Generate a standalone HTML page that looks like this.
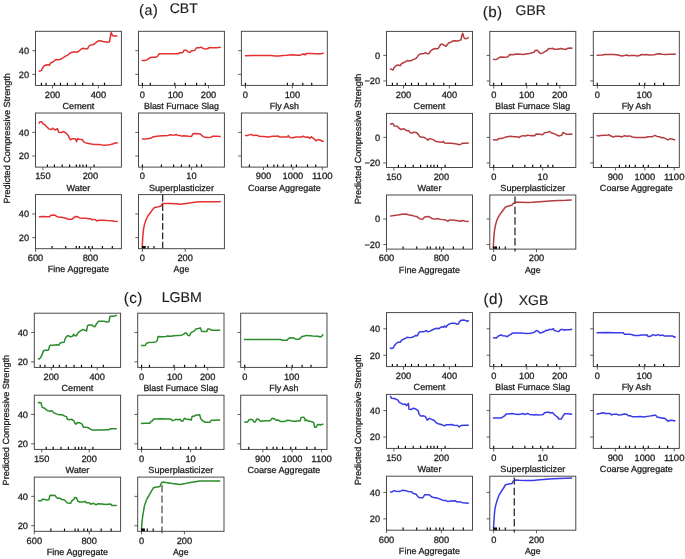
<!DOCTYPE html>
<html><head><meta charset="utf-8"><style>
html,body{margin:0;padding:0;background:#fff;width:685px;height:559px;overflow:hidden}
svg{position:absolute;left:0;top:0;-webkit-font-smoothing:antialiased;will-change:transform}
svg text{font-family:"Liberation Sans", sans-serif;fill:#1e1e1e;text-rendering:geometricPrecision;stroke:#1e1e1e;stroke-width:0.28px}
</style></head><body>
<svg width="685" height="559" viewBox="0 0 685 559">
<rect width="685" height="559" fill="#fff"/>
<g><text x="139" y="15.4" font-size="15.2" letter-spacing="0.45" style="stroke-width:0.15px">(<tspan font-size="14.2">a</tspan>)</text>
<text x="169.7" y="12.95" font-size="14.0" style="stroke-width:0.15px">CBT</text>
<g transform="translate(9.5,138.4) rotate(-90)"><text x="0" y="0" text-anchor="middle" font-size="8.9" textLength="130.46" lengthAdjust="spacingAndGlyphs">Predicted Compressive Strength</text></g>
<path d="M38.8,71.2 L40.5,70.8 L41.5,70.5 L42.5,68 L44,66 L46,65 L48,64.8 L49.5,65.2 L50.5,63 L52.5,62.2 L54.5,60.8 L56,59.5 L58,59.7 L60,59.5 L62,58.3 L64,57.2 L66,55.8 L68,54.8 L70.5,52.8 L72.5,52.2 L74.5,51.8 L76.5,52.2 L78.8,51.2 L79.5,50.5 L81,49.2 L83,48.3 L85,48.8 L87.5,48.8 L89,46 L90.5,45 L92.5,44.8 L94.5,44 L96.5,42 L98.5,40.8 L100.5,40.7 L102.5,41.5 L105,41.8 L107.5,42.3 L109.5,41.8 L110.5,36 L111.2,32.5 L112.5,35.5 L114,36 L117.5,36" fill="none" stroke="#e63030" stroke-width="1.5" stroke-linejoin="round"/>
<line x1="41.4" y1="85.4" x2="41.4" y2="82.7" stroke="#000" stroke-width="1.15"/>
<line x1="46.1" y1="85.4" x2="46.1" y2="82.7" stroke="#000" stroke-width="1.15"/>
<line x1="54.5" y1="85.4" x2="54.5" y2="82.7" stroke="#000" stroke-width="1.15"/>
<line x1="60.5" y1="85.4" x2="60.5" y2="82.7" stroke="#000" stroke-width="1.15"/>
<line x1="67.4" y1="85.4" x2="67.4" y2="82.7" stroke="#000" stroke-width="1.15"/>
<line x1="75.3" y1="85.4" x2="75.3" y2="82.7" stroke="#000" stroke-width="1.15"/>
<line x1="82.7" y1="85.4" x2="82.7" y2="82.7" stroke="#000" stroke-width="1.15"/>
<line x1="92.8" y1="85.4" x2="92.8" y2="82.7" stroke="#000" stroke-width="1.15"/>
<line x1="104.5" y1="85.4" x2="104.5" y2="82.7" stroke="#000" stroke-width="1.15"/>
<rect x="35.5" y="31.3" width="85.9" height="54.1" fill="none" stroke="#404040" stroke-width="0.95"/>
<line x1="52.5" y1="85.4" x2="52.5" y2="88.4" stroke="#333" stroke-width="0.8"/>
<text x="52.5" y="97.7" text-anchor="middle" font-size="9.2" textLength="15.46" lengthAdjust="spacingAndGlyphs">200</text>
<line x1="98.4" y1="85.4" x2="98.4" y2="88.4" stroke="#333" stroke-width="0.8"/>
<text x="98.4" y="97.7" text-anchor="middle" font-size="9.2" textLength="15.46" lengthAdjust="spacingAndGlyphs">400</text>
<line x1="32.3" y1="74.35" x2="35.5" y2="74.35" stroke="#333" stroke-width="0.8"/>
<text x="29.2" y="77.65" text-anchor="end" font-size="9.2" textLength="10.31" lengthAdjust="spacingAndGlyphs">20</text>
<line x1="32.3" y1="50.7" x2="35.5" y2="50.7" stroke="#333" stroke-width="0.8"/>
<text x="29.2" y="54" text-anchor="end" font-size="9.2" textLength="10.31" lengthAdjust="spacingAndGlyphs">40</text>
<text x="78.45" y="108.8" text-anchor="middle" font-size="8.9" textLength="31.82" lengthAdjust="spacingAndGlyphs">Cement</text>
<path d="M141.55,60.53 L144.8,60.53 L147.39,59.62 L149.99,57.54 L152.59,57.28 L156.23,57.28 L157.79,55.98 L159.09,53.78 L162.98,53.78 L169.48,53.78 L175.98,53.78 L177.93,53.78 L179.61,52.74 L182.73,52.74 L184.03,50.14 L186.37,50.14 L187.93,51.83 L189.62,52.61 L191.57,50.79 L194.81,50.4 L196.5,47.8 L199.36,47.8 L201.05,47.15 L202.61,48.19 L205.86,49.1 L207.81,48.58 L209.11,47.54 L212.35,47.8 L216.25,47.8 L220.8,47.28" fill="none" stroke="#e63030" stroke-width="1.5" stroke-linejoin="round"/>
<line x1="142.4" y1="85.4" x2="142.4" y2="82.7" stroke="#000" stroke-width="1.15"/>
<line x1="150.3" y1="85.4" x2="150.3" y2="82.7" stroke="#000" stroke-width="1.15"/>
<line x1="174.8" y1="85.4" x2="174.8" y2="82.7" stroke="#000" stroke-width="1.15"/>
<line x1="185.4" y1="85.4" x2="185.4" y2="82.7" stroke="#000" stroke-width="1.15"/>
<line x1="196.6" y1="85.4" x2="196.6" y2="82.7" stroke="#000" stroke-width="1.15"/>
<line x1="205.3" y1="85.4" x2="205.3" y2="82.7" stroke="#000" stroke-width="1.15"/>
<rect x="138.5" y="31.3" width="85.9" height="54.1" fill="none" stroke="#404040" stroke-width="0.95"/>
<line x1="142.4" y1="85.4" x2="142.4" y2="88.4" stroke="#333" stroke-width="0.8"/>
<text x="142.4" y="97.7" text-anchor="middle" font-size="9.2" textLength="5.15" lengthAdjust="spacingAndGlyphs">0</text>
<line x1="175.45" y1="85.4" x2="175.45" y2="88.4" stroke="#333" stroke-width="0.8"/>
<text x="175.45" y="97.7" text-anchor="middle" font-size="9.2" textLength="15.46" lengthAdjust="spacingAndGlyphs">100</text>
<line x1="208.5" y1="85.4" x2="208.5" y2="88.4" stroke="#333" stroke-width="0.8"/>
<text x="208.5" y="97.7" text-anchor="middle" font-size="9.2" textLength="15.46" lengthAdjust="spacingAndGlyphs">200</text>
<line x1="135.3" y1="74.35" x2="138.5" y2="74.35" stroke="#333" stroke-width="0.8"/>
<line x1="135.3" y1="50.7" x2="138.5" y2="50.7" stroke="#333" stroke-width="0.8"/>
<text x="181.45" y="108.8" text-anchor="middle" font-size="8.9" textLength="74.89" lengthAdjust="spacingAndGlyphs">Blast Furnace Slag</text>
<path d="M244.94,55.72 L252.99,55.59 L259.49,55.59 L271.18,55.59 L275.08,55.98 L278.98,55.98 L282.87,55.59 L286.77,55.33 L289.37,55.07 L293.27,54.68 L297.17,55.33 L300.41,55.2 L302.1,54.17 L304.31,54.04 L305.22,54.94 L306.26,53.39 L310.16,53.39 L315.35,53.65 L320.55,53.78 L322.5,53.39 L323.8,52.87" fill="none" stroke="#e63030" stroke-width="1.5" stroke-linejoin="round"/>
<line x1="245.4" y1="85.4" x2="245.4" y2="82.7" stroke="#000" stroke-width="1.15"/>
<line x1="287.4" y1="85.4" x2="287.4" y2="82.7" stroke="#000" stroke-width="1.15"/>
<line x1="292.9" y1="85.4" x2="292.9" y2="82.7" stroke="#000" stroke-width="1.15"/>
<line x1="302.8" y1="85.4" x2="302.8" y2="82.7" stroke="#000" stroke-width="1.15"/>
<line x1="311.7" y1="85.4" x2="311.7" y2="82.7" stroke="#000" stroke-width="1.15"/>
<rect x="241.4" y="31.3" width="85.9" height="54.1" fill="none" stroke="#404040" stroke-width="0.95"/>
<line x1="245.4" y1="85.4" x2="245.4" y2="88.4" stroke="#333" stroke-width="0.8"/>
<text x="245.4" y="97.7" text-anchor="middle" font-size="9.2" textLength="5.15" lengthAdjust="spacingAndGlyphs">0</text>
<line x1="292.4" y1="85.4" x2="292.4" y2="88.4" stroke="#333" stroke-width="0.8"/>
<text x="292.4" y="97.7" text-anchor="middle" font-size="9.2" textLength="15.46" lengthAdjust="spacingAndGlyphs">100</text>
<line x1="238.2" y1="74.35" x2="241.4" y2="74.35" stroke="#333" stroke-width="0.8"/>
<line x1="238.2" y1="50.7" x2="241.4" y2="50.7" stroke="#333" stroke-width="0.8"/>
<text x="284.35" y="108.8" text-anchor="middle" font-size="8.9" textLength="29.17" lengthAdjust="spacingAndGlyphs">Fly Ash</text>
<path d="M38.94,123.69 L39.85,121.74 L41.8,121.74 L43.09,123.95 L45.04,124.99 L46.99,126.94 L48.94,128.89 L50.89,129.54 L52.84,128.24 L54.79,129.93 L56.09,129.54 L57.39,128.63 L58.68,132.14 L59.98,132.53 L61.93,132.4 L63.23,131.49 L65.18,132.53 L67.13,134.09 L68.43,136.04 L70.38,139.93 L72.33,138.63 L74.28,138.63 L75.57,139.28 L76.61,141.62 L77.52,138.63 L79.47,139.28 L82.07,139.54 L84.02,142.14 L85.97,142.92 L88.57,143.44 L91.17,144.09 L95.06,144.48 L98.96,144.48 L102.86,145.13 L106.76,145.13 L110.65,144.48 L113.25,143.83 L115.2,142.79 L117.8,142.92" fill="none" stroke="#e63030" stroke-width="1.5" stroke-linejoin="round"/>
<line x1="47.4" y1="167.1" x2="47.4" y2="164.4" stroke="#000" stroke-width="1.15"/>
<line x1="54.4" y1="167.1" x2="54.4" y2="164.4" stroke="#000" stroke-width="1.15"/>
<line x1="62.2" y1="167.1" x2="62.2" y2="164.4" stroke="#000" stroke-width="1.15"/>
<line x1="69.6" y1="167.1" x2="69.6" y2="164.4" stroke="#000" stroke-width="1.15"/>
<line x1="76.3" y1="167.1" x2="76.3" y2="164.4" stroke="#000" stroke-width="1.15"/>
<line x1="79.8" y1="167.1" x2="79.8" y2="164.4" stroke="#000" stroke-width="1.15"/>
<line x1="83" y1="167.1" x2="83" y2="164.4" stroke="#000" stroke-width="1.15"/>
<line x1="86.4" y1="167.1" x2="86.4" y2="164.4" stroke="#000" stroke-width="1.15"/>
<line x1="94.1" y1="167.1" x2="94.1" y2="164.4" stroke="#000" stroke-width="1.15"/>
<rect x="35.5" y="113" width="85.9" height="54.1" fill="none" stroke="#404040" stroke-width="0.95"/>
<line x1="42.9" y1="167.1" x2="42.9" y2="170.1" stroke="#333" stroke-width="0.8"/>
<text x="42.9" y="179.4" text-anchor="middle" font-size="9.2" textLength="15.46" lengthAdjust="spacingAndGlyphs">150</text>
<line x1="90.4" y1="167.1" x2="90.4" y2="170.1" stroke="#333" stroke-width="0.8"/>
<text x="90.4" y="179.4" text-anchor="middle" font-size="9.2" textLength="15.46" lengthAdjust="spacingAndGlyphs">200</text>
<line x1="32.3" y1="156.05" x2="35.5" y2="156.05" stroke="#333" stroke-width="0.8"/>
<text x="29.2" y="159.35" text-anchor="end" font-size="9.2" textLength="10.31" lengthAdjust="spacingAndGlyphs">20</text>
<line x1="32.3" y1="132.4" x2="35.5" y2="132.4" stroke="#333" stroke-width="0.8"/>
<text x="29.2" y="135.7" text-anchor="end" font-size="9.2" textLength="10.31" lengthAdjust="spacingAndGlyphs">40</text>
<text x="78.45" y="190.5" text-anchor="middle" font-size="8.9" textLength="23.94" lengthAdjust="spacingAndGlyphs">Water</text>
<path d="M141.94,139.02 L145.44,139.02 L147.39,138.63 L150.64,138.37 L152.59,137.07 L155.19,136.43 L159.09,136.04 L162.98,135.65 L168.18,135.39 L170.13,134.74 L172.08,135 L174.68,135.13 L175.98,134.35 L177.28,135.13 L179.87,135.39 L181.82,136.17 L183.77,135.78 L186.37,136.04 L188.97,136.3 L191.57,136.43 L192.87,133.83 L194.81,133.44 L198.06,133.7 L200.4,134.09 L201.96,135.65 L203.91,136.94 L207.16,137.59 L211.05,137.33 L212.35,136.3 L216.25,136.3 L220.8,136.43" fill="none" stroke="#e63030" stroke-width="1.5" stroke-linejoin="round"/>
<line x1="142.4" y1="167.1" x2="142.4" y2="164.4" stroke="#000" stroke-width="1.15"/>
<line x1="161.4" y1="167.1" x2="161.4" y2="164.4" stroke="#000" stroke-width="1.15"/>
<line x1="173.6" y1="167.1" x2="173.6" y2="164.4" stroke="#000" stroke-width="1.15"/>
<line x1="181.4" y1="167.1" x2="181.4" y2="164.4" stroke="#000" stroke-width="1.15"/>
<line x1="189.4" y1="167.1" x2="189.4" y2="164.4" stroke="#000" stroke-width="1.15"/>
<line x1="196.7" y1="167.1" x2="196.7" y2="164.4" stroke="#000" stroke-width="1.15"/>
<line x1="201.5" y1="167.1" x2="201.5" y2="164.4" stroke="#000" stroke-width="1.15"/>
<rect x="138.5" y="113" width="85.9" height="54.1" fill="none" stroke="#404040" stroke-width="0.95"/>
<line x1="142.4" y1="167.1" x2="142.4" y2="170.1" stroke="#333" stroke-width="0.8"/>
<text x="142.4" y="179.4" text-anchor="middle" font-size="9.2" textLength="5.15" lengthAdjust="spacingAndGlyphs">0</text>
<line x1="191.4" y1="167.1" x2="191.4" y2="170.1" stroke="#333" stroke-width="0.8"/>
<text x="191.4" y="179.4" text-anchor="middle" font-size="9.2" textLength="10.31" lengthAdjust="spacingAndGlyphs">10</text>
<line x1="135.3" y1="156.05" x2="138.5" y2="156.05" stroke="#333" stroke-width="0.8"/>
<line x1="135.3" y1="132.4" x2="138.5" y2="132.4" stroke="#333" stroke-width="0.8"/>
<text x="181.45" y="190.5" text-anchor="middle" font-size="8.9" textLength="65" lengthAdjust="spacingAndGlyphs">Superplasticizer</text>
<path d="M244.94,135.39 L247.8,135.39 L251.04,134.35 L252.99,135.39 L256.24,135.13 L259.49,136.3 L263.39,136.43 L268.58,136.94 L272.48,136.17 L275.73,136.3 L278.33,136.04 L279.63,137.07 L282.87,137.07 L287.03,137.07 L288.33,135.65 L289.63,137.46 L293.27,137.72 L295.87,137.07 L301.06,137.07 L303.4,136.3 L305.61,137.33 L308.21,137.07 L309.9,138.37 L311.2,136.68 L312.76,137.98 L314.7,139.28 L316,140.84 L317.95,139.54 L319.9,139.93 L321.85,141.23 L323.8,141.36" fill="none" stroke="#e63030" stroke-width="1.5" stroke-linejoin="round"/>
<line x1="249.4" y1="167.1" x2="249.4" y2="164.4" stroke="#000" stroke-width="1.15"/>
<line x1="267.5" y1="167.1" x2="267.5" y2="164.4" stroke="#000" stroke-width="1.15"/>
<line x1="273.9" y1="167.1" x2="273.9" y2="164.4" stroke="#000" stroke-width="1.15"/>
<line x1="277.6" y1="167.1" x2="277.6" y2="164.4" stroke="#000" stroke-width="1.15"/>
<line x1="283.3" y1="167.1" x2="283.3" y2="164.4" stroke="#000" stroke-width="1.15"/>
<line x1="291.4" y1="167.1" x2="291.4" y2="164.4" stroke="#000" stroke-width="1.15"/>
<line x1="296.4" y1="167.1" x2="296.4" y2="164.4" stroke="#000" stroke-width="1.15"/>
<line x1="307.5" y1="167.1" x2="307.5" y2="164.4" stroke="#000" stroke-width="1.15"/>
<line x1="315.7" y1="167.1" x2="315.7" y2="164.4" stroke="#000" stroke-width="1.15"/>
<rect x="241.4" y="113" width="85.9" height="54.1" fill="none" stroke="#404040" stroke-width="0.95"/>
<line x1="263.5" y1="167.1" x2="263.5" y2="170.1" stroke="#333" stroke-width="0.8"/>
<text x="263.5" y="179.4" text-anchor="middle" font-size="9.2" textLength="15.46" lengthAdjust="spacingAndGlyphs">900</text>
<line x1="292.9" y1="167.1" x2="292.9" y2="170.1" stroke="#333" stroke-width="0.8"/>
<text x="292.9" y="179.4" text-anchor="middle" font-size="9.2" textLength="20.61" lengthAdjust="spacingAndGlyphs">1000</text>
<line x1="322.3" y1="167.1" x2="322.3" y2="170.1" stroke="#333" stroke-width="0.8"/>
<text x="322.3" y="179.4" text-anchor="middle" font-size="9.2" textLength="20.61" lengthAdjust="spacingAndGlyphs">1100</text>
<line x1="238.2" y1="156.05" x2="241.4" y2="156.05" stroke="#333" stroke-width="0.8"/>
<line x1="238.2" y1="132.4" x2="241.4" y2="132.4" stroke="#333" stroke-width="0.8"/>
<text x="284.35" y="190.5" text-anchor="middle" font-size="8.9" textLength="72.91" lengthAdjust="spacingAndGlyphs">Coarse Aggregate</text>
<path d="M38.94,216.65 L43.09,216.39 L46.99,216.78 L49.59,216.78 L50.89,215.35 L54.79,215.09 L56.74,216.39 L58.04,217.04 L61.28,217.17 L65.18,217.94 L68.43,219.24 L71.68,219.37 L73.63,217.94 L75.57,216.39 L77.52,216.65 L79.47,217.94 L83.37,218.2 L85.97,218.33 L88.57,218.72 L90.91,218.72 L91.81,219.76 L93.76,219.37 L95.06,219.63 L97.01,220.93 L98.96,220.28 L102.86,220.28 L106.76,220.54 L111.95,220.67 L114.55,221.19 L117.8,221.45" fill="none" stroke="#e63030" stroke-width="1.5" stroke-linejoin="round"/>
<line x1="52.1" y1="248.7" x2="52.1" y2="246" stroke="#000" stroke-width="1.15"/>
<line x1="65.7" y1="248.7" x2="65.7" y2="246" stroke="#000" stroke-width="1.15"/>
<line x1="76.3" y1="248.7" x2="76.3" y2="246" stroke="#000" stroke-width="1.15"/>
<line x1="79.35" y1="248.7" x2="79.35" y2="246" stroke="#000" stroke-width="1.15"/>
<line x1="85.1" y1="248.7" x2="85.1" y2="246" stroke="#000" stroke-width="1.15"/>
<line x1="88.75" y1="248.7" x2="88.75" y2="246" stroke="#000" stroke-width="1.15"/>
<line x1="92.3" y1="248.7" x2="92.3" y2="246" stroke="#000" stroke-width="1.15"/>
<line x1="102.4" y1="248.7" x2="102.4" y2="246" stroke="#000" stroke-width="1.15"/>
<line x1="112.3" y1="248.7" x2="112.3" y2="246" stroke="#000" stroke-width="1.15"/>
<rect x="35.5" y="194.6" width="85.9" height="54.1" fill="none" stroke="#404040" stroke-width="0.95"/>
<line x1="35.55" y1="248.7" x2="35.55" y2="251.7" stroke="#333" stroke-width="0.8"/>
<text x="35.55" y="261" text-anchor="middle" font-size="9.2" textLength="15.46" lengthAdjust="spacingAndGlyphs">600</text>
<line x1="90.4" y1="248.7" x2="90.4" y2="251.7" stroke="#333" stroke-width="0.8"/>
<text x="90.4" y="261" text-anchor="middle" font-size="9.2" textLength="15.46" lengthAdjust="spacingAndGlyphs">800</text>
<line x1="32.3" y1="237.65" x2="35.5" y2="237.65" stroke="#333" stroke-width="0.8"/>
<text x="29.2" y="240.95" text-anchor="end" font-size="9.2" textLength="10.31" lengthAdjust="spacingAndGlyphs">20</text>
<line x1="32.3" y1="214" x2="35.5" y2="214" stroke="#333" stroke-width="0.8"/>
<text x="29.2" y="217.3" text-anchor="end" font-size="9.2" textLength="10.31" lengthAdjust="spacingAndGlyphs">40</text>
<text x="78.45" y="272.1" text-anchor="middle" font-size="8.9" textLength="61.24" lengthAdjust="spacingAndGlyphs">Fine Aggregate</text>
<path d="M142.2,247.57 L142.46,242.37 L142.85,235.87 L143.5,229.38 L144.54,224.18 L146.09,219.63 L148.04,215.74 L150.64,212.23 L152.59,209.63 L154.54,207.55 L157.79,206.9 L161.04,205.99 L161.68,204.69 L162.98,203.39 L169.48,203.39 L175.98,203.78 L180.52,204.3 L186.37,203.39 L192.87,202.48 L199.36,201.83 L208.46,201.83 L214.95,201.83 L219.5,201.7 L220.8,201.31" fill="none" stroke="#e63030" stroke-width="1.5" stroke-linejoin="round"/>
<line x1="142.4" y1="248.7" x2="142.4" y2="246" stroke="#000" stroke-width="1.15"/>
<line x1="143.4" y1="248.7" x2="143.4" y2="246" stroke="#000" stroke-width="1.15"/>
<line x1="144.4" y1="248.7" x2="144.4" y2="246" stroke="#000" stroke-width="1.15"/>
<line x1="145.1" y1="248.7" x2="145.1" y2="246" stroke="#000" stroke-width="1.15"/>
<line x1="148.1" y1="248.7" x2="148.1" y2="246" stroke="#000" stroke-width="1.15"/>
<line x1="154" y1="248.7" x2="154" y2="246" stroke="#000" stroke-width="1.15"/>
<line x1="162.7" y1="194.8" x2="162.7" y2="250.5" stroke="#111" stroke-width="1.15" stroke-dasharray="6.8 2.6"/>
<rect x="138.5" y="194.6" width="85.9" height="54.1" fill="none" stroke="#404040" stroke-width="0.95"/>
<line x1="142.4" y1="248.7" x2="142.4" y2="251.7" stroke="#333" stroke-width="0.8"/>
<text x="142.4" y="261" text-anchor="middle" font-size="9.2" textLength="5.15" lengthAdjust="spacingAndGlyphs">0</text>
<line x1="185.2" y1="248.7" x2="185.2" y2="251.7" stroke="#333" stroke-width="0.8"/>
<text x="185.2" y="261" text-anchor="middle" font-size="9.2" textLength="15.46" lengthAdjust="spacingAndGlyphs">200</text>
<line x1="135.3" y1="237.65" x2="138.5" y2="237.65" stroke="#333" stroke-width="0.8"/>
<line x1="135.3" y1="214" x2="138.5" y2="214" stroke="#333" stroke-width="0.8"/>
<text x="181.45" y="272.1" text-anchor="middle" font-size="8.9" textLength="15.67" lengthAdjust="spacingAndGlyphs">Age</text></g>
<g><text x="482.7" y="16.6" font-size="15.2" letter-spacing="0.45" style="stroke-width:0.15px">(b)</text>
<text x="515.6" y="14.6" font-size="13.9" style="stroke-width:0.15px">GBR</text>
<g transform="translate(360.5,138.9) rotate(-90)"><text x="0" y="0" text-anchor="middle" font-size="8.9" textLength="130.46" lengthAdjust="spacingAndGlyphs">Predicted Compressive Strength</text></g>
<path d="M389.94,68.98 L391.5,69.24 L393.06,70.02 L394.35,67.03 L396.69,65.34 L398.64,65.08 L400.33,65.73 L401.63,63.52 L403.84,62.48 L405.79,61.57 L407.09,60.53 L409.04,60.92 L410.98,60.79 L412.93,59.62 L414.88,58.84 L416.18,58.32 L417.48,56.63 L419.04,54.43 L421.38,53.65 L423.33,53.65 L425.93,52.74 L427.22,53.65 L429.17,53.39 L430.47,51.05 L433.07,49.23 L435.02,48.58 L436.97,48.84 L438.27,48.45 L439.57,46.24 L440.87,44.29 L442.81,44.29 L444.76,45.59 L446.06,46.24 L447.36,44.55 L448.66,42.99 L451.26,41.95 L452.56,41.04 L455.16,40.65 L457.76,41.04 L459.7,40.39 L461,39.74 L461.91,35.2 L462.69,33.25 L463.6,36.5 L464.51,38.44 L466.2,38.7 L467.5,38.06 L468.8,37.41" fill="none" stroke="#b43c40" stroke-width="1.5" stroke-linejoin="round"/>
<line x1="392.4" y1="85.5" x2="392.4" y2="82.8" stroke="#000" stroke-width="1.15"/>
<line x1="397.1" y1="85.5" x2="397.1" y2="82.8" stroke="#000" stroke-width="1.15"/>
<line x1="405.5" y1="85.5" x2="405.5" y2="82.8" stroke="#000" stroke-width="1.15"/>
<line x1="411.5" y1="85.5" x2="411.5" y2="82.8" stroke="#000" stroke-width="1.15"/>
<line x1="418.4" y1="85.5" x2="418.4" y2="82.8" stroke="#000" stroke-width="1.15"/>
<line x1="426.3" y1="85.5" x2="426.3" y2="82.8" stroke="#000" stroke-width="1.15"/>
<line x1="433.7" y1="85.5" x2="433.7" y2="82.8" stroke="#000" stroke-width="1.15"/>
<line x1="443.8" y1="85.5" x2="443.8" y2="82.8" stroke="#000" stroke-width="1.15"/>
<line x1="455.5" y1="85.5" x2="455.5" y2="82.8" stroke="#000" stroke-width="1.15"/>
<rect x="386.5" y="31.4" width="86" height="54.1" fill="none" stroke="#404040" stroke-width="0.95"/>
<line x1="403.5" y1="85.5" x2="403.5" y2="88.5" stroke="#333" stroke-width="0.8"/>
<text x="403.5" y="97.8" text-anchor="middle" font-size="9.2" textLength="15.46" lengthAdjust="spacingAndGlyphs">200</text>
<line x1="449.4" y1="85.5" x2="449.4" y2="88.5" stroke="#333" stroke-width="0.8"/>
<text x="449.4" y="97.8" text-anchor="middle" font-size="9.2" textLength="15.46" lengthAdjust="spacingAndGlyphs">400</text>
<line x1="383.3" y1="80.95" x2="386.5" y2="80.95" stroke="#333" stroke-width="0.8"/>
<text x="380.2" y="84.25" text-anchor="end" font-size="9.2" textLength="15.79" lengthAdjust="spacingAndGlyphs">−20</text>
<line x1="383.3" y1="55.4" x2="386.5" y2="55.4" stroke="#333" stroke-width="0.8"/>
<text x="380.2" y="58.7" text-anchor="end" font-size="9.2" textLength="5.15" lengthAdjust="spacingAndGlyphs">0</text>
<text x="429.5" y="108.9" text-anchor="middle" font-size="8.9" textLength="31.82" lengthAdjust="spacingAndGlyphs">Cement</text>
<path d="M492.94,59.23 L495.8,59.62 L497.74,58.58 L499.69,57.28 L501.64,56.89 L504.24,57.28 L507.49,56.89 L508.79,55.98 L509.83,54.43 L512.68,54.68 L516.58,54.04 L520.48,54.17 L523.73,54.43 L526.98,53.78 L529.57,53.39 L532.17,52.74 L534.12,52.35 L535.03,50.53 L537.37,50.14 L538.93,52.09 L540.62,53.65 L542.57,53.13 L545.17,51.44 L547.11,50.53 L548.41,48.58 L550.36,48.84 L552.31,48.19 L554.26,49.23 L558.16,49.23 L560.76,48.45 L563.35,49.1 L565.95,49.49 L567.9,48.19 L570.5,47.93 L572.45,48.19" fill="none" stroke="#b43c40" stroke-width="1.5" stroke-linejoin="round"/>
<line x1="493.7" y1="85.5" x2="493.7" y2="82.8" stroke="#000" stroke-width="1.15"/>
<line x1="501.6" y1="85.5" x2="501.6" y2="82.8" stroke="#000" stroke-width="1.15"/>
<line x1="526.1" y1="85.5" x2="526.1" y2="82.8" stroke="#000" stroke-width="1.15"/>
<line x1="536.7" y1="85.5" x2="536.7" y2="82.8" stroke="#000" stroke-width="1.15"/>
<line x1="547.9" y1="85.5" x2="547.9" y2="82.8" stroke="#000" stroke-width="1.15"/>
<line x1="556.6" y1="85.5" x2="556.6" y2="82.8" stroke="#000" stroke-width="1.15"/>
<rect x="489.8" y="31.4" width="86" height="54.1" fill="none" stroke="#404040" stroke-width="0.95"/>
<line x1="493.7" y1="85.5" x2="493.7" y2="88.5" stroke="#333" stroke-width="0.8"/>
<text x="493.7" y="97.8" text-anchor="middle" font-size="9.2" textLength="5.15" lengthAdjust="spacingAndGlyphs">0</text>
<line x1="526.75" y1="85.5" x2="526.75" y2="88.5" stroke="#333" stroke-width="0.8"/>
<text x="526.75" y="97.8" text-anchor="middle" font-size="9.2" textLength="15.46" lengthAdjust="spacingAndGlyphs">100</text>
<line x1="559.8" y1="85.5" x2="559.8" y2="88.5" stroke="#333" stroke-width="0.8"/>
<text x="559.8" y="97.8" text-anchor="middle" font-size="9.2" textLength="15.46" lengthAdjust="spacingAndGlyphs">200</text>
<line x1="486.6" y1="80.95" x2="489.8" y2="80.95" stroke="#333" stroke-width="0.8"/>
<line x1="486.6" y1="55.4" x2="489.8" y2="55.4" stroke="#333" stroke-width="0.8"/>
<text x="532.8" y="108.9" text-anchor="middle" font-size="8.9" textLength="74.89" lengthAdjust="spacingAndGlyphs">Blast Furnace Slag</text>
<path d="M596.55,55.33 L602.39,55.07 L604.99,54.43 L614.09,54.43 L617.98,55.07 L621.88,55.98 L624.48,55.59 L627.08,55.07 L628.38,55.72 L630.98,55.59 L634.87,55.59 L637.47,55.98 L640.07,55.33 L641.37,54.43 L643.97,54.68 L646.57,54.43 L649.17,54.94 L654.36,54.68 L656.96,54.04 L659.56,53.78 L662.16,54.3 L666.05,54.43 L669.95,54.3 L673.85,54.3 L675.8,53.91" fill="none" stroke="#b43c40" stroke-width="1.5" stroke-linejoin="round"/>
<line x1="597.3" y1="85.5" x2="597.3" y2="82.8" stroke="#000" stroke-width="1.15"/>
<line x1="639.3" y1="85.5" x2="639.3" y2="82.8" stroke="#000" stroke-width="1.15"/>
<line x1="644.8" y1="85.5" x2="644.8" y2="82.8" stroke="#000" stroke-width="1.15"/>
<line x1="654.7" y1="85.5" x2="654.7" y2="82.8" stroke="#000" stroke-width="1.15"/>
<line x1="663.6" y1="85.5" x2="663.6" y2="82.8" stroke="#000" stroke-width="1.15"/>
<rect x="593.3" y="31.4" width="86" height="54.1" fill="none" stroke="#404040" stroke-width="0.95"/>
<line x1="597.3" y1="85.5" x2="597.3" y2="88.5" stroke="#333" stroke-width="0.8"/>
<text x="597.3" y="97.8" text-anchor="middle" font-size="9.2" textLength="5.15" lengthAdjust="spacingAndGlyphs">0</text>
<line x1="644.3" y1="85.5" x2="644.3" y2="88.5" stroke="#333" stroke-width="0.8"/>
<text x="644.3" y="97.8" text-anchor="middle" font-size="9.2" textLength="15.46" lengthAdjust="spacingAndGlyphs">100</text>
<line x1="590.1" y1="80.95" x2="593.3" y2="80.95" stroke="#333" stroke-width="0.8"/>
<line x1="590.1" y1="55.4" x2="593.3" y2="55.4" stroke="#333" stroke-width="0.8"/>
<text x="636.3" y="108.9" text-anchor="middle" font-size="8.9" textLength="29.17" lengthAdjust="spacingAndGlyphs">Fly Ash</text>
<path d="M390.2,124.73 L391.5,123.43 L393.06,123.69 L394.35,126.03 L397.34,126.29 L399.03,128.24 L401.24,129.54 L403.19,128.63 L405.14,129.54 L407.09,130.84 L408.39,130.58 L410.33,132.79 L412.28,133.05 L414.23,132.14 L416.18,132.4 L418.13,134.09 L419.43,136.43 L421.38,137.33 L423.98,137.33 L425.28,137.98 L426.57,139.02 L427.87,140.32 L429.17,138.63 L430.47,138.63 L433.07,139.67 L435.02,140.84 L436.32,141.62 L439.57,141.88 L442.81,142.14 L443.46,141.36 L444.5,142.92 L447.36,143.18 L451.26,143.18 L455.16,143.83 L457.76,144.22 L459.05,144.74 L461,144.22 L462.69,143.18 L465.55,143.18 L468.8,142.92" fill="none" stroke="#b43c40" stroke-width="1.5" stroke-linejoin="round"/>
<line x1="398.4" y1="167.5" x2="398.4" y2="164.8" stroke="#000" stroke-width="1.15"/>
<line x1="405.4" y1="167.5" x2="405.4" y2="164.8" stroke="#000" stroke-width="1.15"/>
<line x1="413.2" y1="167.5" x2="413.2" y2="164.8" stroke="#000" stroke-width="1.15"/>
<line x1="420.6" y1="167.5" x2="420.6" y2="164.8" stroke="#000" stroke-width="1.15"/>
<line x1="427.3" y1="167.5" x2="427.3" y2="164.8" stroke="#000" stroke-width="1.15"/>
<line x1="430.8" y1="167.5" x2="430.8" y2="164.8" stroke="#000" stroke-width="1.15"/>
<line x1="434" y1="167.5" x2="434" y2="164.8" stroke="#000" stroke-width="1.15"/>
<line x1="437.4" y1="167.5" x2="437.4" y2="164.8" stroke="#000" stroke-width="1.15"/>
<line x1="445.1" y1="167.5" x2="445.1" y2="164.8" stroke="#000" stroke-width="1.15"/>
<rect x="386.5" y="113.4" width="86" height="54.1" fill="none" stroke="#404040" stroke-width="0.95"/>
<line x1="393.9" y1="167.5" x2="393.9" y2="170.5" stroke="#333" stroke-width="0.8"/>
<text x="393.9" y="179.8" text-anchor="middle" font-size="9.2" textLength="15.46" lengthAdjust="spacingAndGlyphs">150</text>
<line x1="441.4" y1="167.5" x2="441.4" y2="170.5" stroke="#333" stroke-width="0.8"/>
<text x="441.4" y="179.8" text-anchor="middle" font-size="9.2" textLength="15.46" lengthAdjust="spacingAndGlyphs">200</text>
<line x1="383.3" y1="162.95" x2="386.5" y2="162.95" stroke="#333" stroke-width="0.8"/>
<text x="380.2" y="166.25" text-anchor="end" font-size="9.2" textLength="15.79" lengthAdjust="spacingAndGlyphs">−20</text>
<line x1="383.3" y1="137.4" x2="386.5" y2="137.4" stroke="#333" stroke-width="0.8"/>
<text x="380.2" y="140.7" text-anchor="end" font-size="9.2" textLength="5.15" lengthAdjust="spacingAndGlyphs">0</text>
<text x="429.5" y="190.9" text-anchor="middle" font-size="8.9" textLength="23.94" lengthAdjust="spacingAndGlyphs">Water</text>
<path d="M492.94,139.67 L497.09,139.93 L498.39,138.63 L502.29,138.37 L504.89,137.33 L507.49,136.68 L510.74,136.17 L513.98,136.68 L517.23,136.68 L518.92,137.59 L520.48,136.43 L523.08,135.65 L525.68,136.04 L527.63,135.13 L530.87,135.78 L532.82,135.39 L534.77,135.65 L536.07,134.09 L539.97,134.35 L542.57,134.74 L544.52,132.79 L547.76,132.14 L549.32,131.49 L551.66,133.05 L553.61,133.44 L555.56,134.35 L558.81,136.04 L561.79,135.13 L563.09,132.53 L565.3,133.7 L567.25,134.35 L572.45,134.35" fill="none" stroke="#b43c40" stroke-width="1.5" stroke-linejoin="round"/>
<line x1="493.7" y1="167.5" x2="493.7" y2="164.8" stroke="#000" stroke-width="1.15"/>
<line x1="512.7" y1="167.5" x2="512.7" y2="164.8" stroke="#000" stroke-width="1.15"/>
<line x1="524.9" y1="167.5" x2="524.9" y2="164.8" stroke="#000" stroke-width="1.15"/>
<line x1="532.7" y1="167.5" x2="532.7" y2="164.8" stroke="#000" stroke-width="1.15"/>
<line x1="540.7" y1="167.5" x2="540.7" y2="164.8" stroke="#000" stroke-width="1.15"/>
<line x1="548" y1="167.5" x2="548" y2="164.8" stroke="#000" stroke-width="1.15"/>
<line x1="552.8" y1="167.5" x2="552.8" y2="164.8" stroke="#000" stroke-width="1.15"/>
<rect x="489.8" y="113.4" width="86" height="54.1" fill="none" stroke="#404040" stroke-width="0.95"/>
<line x1="493.7" y1="167.5" x2="493.7" y2="170.5" stroke="#333" stroke-width="0.8"/>
<text x="493.7" y="179.8" text-anchor="middle" font-size="9.2" textLength="5.15" lengthAdjust="spacingAndGlyphs">0</text>
<line x1="542.7" y1="167.5" x2="542.7" y2="170.5" stroke="#333" stroke-width="0.8"/>
<text x="542.7" y="179.8" text-anchor="middle" font-size="9.2" textLength="10.31" lengthAdjust="spacingAndGlyphs">10</text>
<line x1="486.6" y1="162.95" x2="489.8" y2="162.95" stroke="#333" stroke-width="0.8"/>
<line x1="486.6" y1="137.4" x2="489.8" y2="137.4" stroke="#333" stroke-width="0.8"/>
<text x="532.8" y="190.9" text-anchor="middle" font-size="8.9" textLength="65" lengthAdjust="spacingAndGlyphs">Superplasticizer</text>
<path d="M596.55,135.39 L598.5,136.04 L601.09,135.39 L604.34,135.13 L606.29,135.39 L608.89,134.74 L610.84,136.04 L613.44,136.94 L615.39,136.3 L619.28,136.3 L621.88,136.94 L624.48,135.78 L627.08,136.3 L629.68,135.91 L632.28,136.94 L636.17,137.46 L641.37,137.46 L645.27,137.46 L647.87,136.68 L652.41,136.68 L655.01,135.39 L656.96,136.43 L659.56,136.68 L661.51,137.72 L663.46,137.59 L666.05,138.89 L668,139.93 L669.95,138.63 L672.55,139.28 L675.15,139.93" fill="none" stroke="#b43c40" stroke-width="1.5" stroke-linejoin="round"/>
<line x1="601.3" y1="167.5" x2="601.3" y2="164.8" stroke="#000" stroke-width="1.15"/>
<line x1="619.4" y1="167.5" x2="619.4" y2="164.8" stroke="#000" stroke-width="1.15"/>
<line x1="625.8" y1="167.5" x2="625.8" y2="164.8" stroke="#000" stroke-width="1.15"/>
<line x1="629.5" y1="167.5" x2="629.5" y2="164.8" stroke="#000" stroke-width="1.15"/>
<line x1="635.2" y1="167.5" x2="635.2" y2="164.8" stroke="#000" stroke-width="1.15"/>
<line x1="643.3" y1="167.5" x2="643.3" y2="164.8" stroke="#000" stroke-width="1.15"/>
<line x1="648.3" y1="167.5" x2="648.3" y2="164.8" stroke="#000" stroke-width="1.15"/>
<line x1="659.4" y1="167.5" x2="659.4" y2="164.8" stroke="#000" stroke-width="1.15"/>
<line x1="667.6" y1="167.5" x2="667.6" y2="164.8" stroke="#000" stroke-width="1.15"/>
<rect x="593.3" y="113.4" width="86" height="54.1" fill="none" stroke="#404040" stroke-width="0.95"/>
<line x1="615.4" y1="167.5" x2="615.4" y2="170.5" stroke="#333" stroke-width="0.8"/>
<text x="615.4" y="179.8" text-anchor="middle" font-size="9.2" textLength="15.46" lengthAdjust="spacingAndGlyphs">900</text>
<line x1="644.8" y1="167.5" x2="644.8" y2="170.5" stroke="#333" stroke-width="0.8"/>
<text x="644.8" y="179.8" text-anchor="middle" font-size="9.2" textLength="20.61" lengthAdjust="spacingAndGlyphs">1000</text>
<line x1="674.2" y1="167.5" x2="674.2" y2="170.5" stroke="#333" stroke-width="0.8"/>
<text x="674.2" y="179.8" text-anchor="middle" font-size="9.2" textLength="20.61" lengthAdjust="spacingAndGlyphs">1100</text>
<line x1="590.1" y1="162.95" x2="593.3" y2="162.95" stroke="#333" stroke-width="0.8"/>
<line x1="590.1" y1="137.4" x2="593.3" y2="137.4" stroke="#333" stroke-width="0.8"/>
<text x="636.3" y="190.9" text-anchor="middle" font-size="8.9" textLength="72.91" lengthAdjust="spacingAndGlyphs">Coarse Aggregate</text>
<path d="M389.94,216.13 L394.09,215.48 L397.99,215.09 L401.89,214.18 L405.79,214.05 L408.39,214.7 L412.28,215.48 L415.53,216.39 L416.83,216.39 L418.13,217.68 L420.08,218.98 L422.68,219.24 L424.63,217.04 L426.57,216.65 L428.52,216.39 L430.47,217.68 L432.42,218.72 L435.67,218.98 L437.62,218.59 L439.57,219.24 L442.81,219.63 L446.06,220.02 L448.01,221.32 L449.31,219.89 L452.56,220.02 L456.46,220.54 L460.35,221.19 L462.3,220.54 L465.55,221.19 L468.8,221.58" fill="none" stroke="#b43c40" stroke-width="1.5" stroke-linejoin="round"/>
<line x1="403.1" y1="249.1" x2="403.1" y2="246.4" stroke="#000" stroke-width="1.15"/>
<line x1="416.7" y1="249.1" x2="416.7" y2="246.4" stroke="#000" stroke-width="1.15"/>
<line x1="427.3" y1="249.1" x2="427.3" y2="246.4" stroke="#000" stroke-width="1.15"/>
<line x1="430.35" y1="249.1" x2="430.35" y2="246.4" stroke="#000" stroke-width="1.15"/>
<line x1="436.1" y1="249.1" x2="436.1" y2="246.4" stroke="#000" stroke-width="1.15"/>
<line x1="439.75" y1="249.1" x2="439.75" y2="246.4" stroke="#000" stroke-width="1.15"/>
<line x1="443.3" y1="249.1" x2="443.3" y2="246.4" stroke="#000" stroke-width="1.15"/>
<line x1="453.4" y1="249.1" x2="453.4" y2="246.4" stroke="#000" stroke-width="1.15"/>
<line x1="463.3" y1="249.1" x2="463.3" y2="246.4" stroke="#000" stroke-width="1.15"/>
<rect x="386.5" y="195" width="86" height="54.1" fill="none" stroke="#404040" stroke-width="0.95"/>
<line x1="386.55" y1="249.1" x2="386.55" y2="252.1" stroke="#333" stroke-width="0.8"/>
<text x="386.55" y="261.4" text-anchor="middle" font-size="9.2" textLength="15.46" lengthAdjust="spacingAndGlyphs">600</text>
<line x1="441.4" y1="249.1" x2="441.4" y2="252.1" stroke="#333" stroke-width="0.8"/>
<text x="441.4" y="261.4" text-anchor="middle" font-size="9.2" textLength="15.46" lengthAdjust="spacingAndGlyphs">800</text>
<line x1="383.3" y1="244.55" x2="386.5" y2="244.55" stroke="#333" stroke-width="0.8"/>
<text x="380.2" y="247.85" text-anchor="end" font-size="9.2" textLength="15.79" lengthAdjust="spacingAndGlyphs">−20</text>
<line x1="383.3" y1="219" x2="386.5" y2="219" stroke="#333" stroke-width="0.8"/>
<text x="380.2" y="222.3" text-anchor="end" font-size="9.2" textLength="5.15" lengthAdjust="spacingAndGlyphs">0</text>
<text x="429.5" y="272.5" text-anchor="middle" font-size="8.9" textLength="61.24" lengthAdjust="spacingAndGlyphs">Fine Aggregate</text>
<path d="M493.2,248.22 L493.46,243.67 L493.85,237.17 L494.5,230.68 L495.54,224.83 L497.09,219.63 L499.43,215.09 L502.29,211.19 L505.54,207.03 L508.79,205.99 L512.04,205.08 L513.33,203.39 L515.28,202.35 L520.48,202.35 L526.98,202.48 L532.17,202.35 L539.97,201.7 L546.46,201.19 L552.96,200.8 L559.46,200.54 L565.95,200.28 L571.8,199.89" fill="none" stroke="#b43c40" stroke-width="1.5" stroke-linejoin="round"/>
<line x1="493.7" y1="249.1" x2="493.7" y2="246.4" stroke="#000" stroke-width="1.15"/>
<line x1="494.7" y1="249.1" x2="494.7" y2="246.4" stroke="#000" stroke-width="1.15"/>
<line x1="495.7" y1="249.1" x2="495.7" y2="246.4" stroke="#000" stroke-width="1.15"/>
<line x1="496.4" y1="249.1" x2="496.4" y2="246.4" stroke="#000" stroke-width="1.15"/>
<line x1="499.4" y1="249.1" x2="499.4" y2="246.4" stroke="#000" stroke-width="1.15"/>
<line x1="505.3" y1="249.1" x2="505.3" y2="246.4" stroke="#000" stroke-width="1.15"/>
<line x1="515" y1="196.4" x2="515" y2="251.5" stroke="#4a4a4a" stroke-width="1.5" stroke-dasharray="7.6 2.8"/>
<rect x="489.8" y="195" width="86" height="54.1" fill="none" stroke="#404040" stroke-width="0.95"/>
<line x1="493.7" y1="249.1" x2="493.7" y2="252.1" stroke="#333" stroke-width="0.8"/>
<text x="493.7" y="261.4" text-anchor="middle" font-size="9.2" textLength="5.15" lengthAdjust="spacingAndGlyphs">0</text>
<line x1="536.5" y1="249.1" x2="536.5" y2="252.1" stroke="#333" stroke-width="0.8"/>
<text x="536.5" y="261.4" text-anchor="middle" font-size="9.2" textLength="15.46" lengthAdjust="spacingAndGlyphs">200</text>
<line x1="486.6" y1="244.55" x2="489.8" y2="244.55" stroke="#333" stroke-width="0.8"/>
<line x1="486.6" y1="219" x2="489.8" y2="219" stroke="#333" stroke-width="0.8"/>
<text x="532.8" y="272.5" text-anchor="middle" font-size="8.9" textLength="15.67" lengthAdjust="spacingAndGlyphs">Age</text></g>
<g><text x="123.8" y="302.5" font-size="15.2" letter-spacing="0.45" style="stroke-width:0.15px">(c)</text>
<text x="161.7" y="302.4" font-size="14.2" style="stroke-width:0.15px">LGBM</text>
<g transform="translate(8.7,420.2) rotate(-90)"><text x="0" y="0" text-anchor="middle" font-size="8.9" textLength="130.46" lengthAdjust="spacingAndGlyphs">Predicted Compressive Strength</text></g>
<path d="M37.94,358.51 L39.24,359.03 L40.54,357.73 L42.09,354.87 L43.39,350.98 L44.69,350.33 L47.29,350.33 L48.59,349.94 L49.63,345.78 L50.54,345.13 L53.79,345.13 L56.39,344.74 L58.98,345.13 L60.28,342.92 L61.58,342.53 L64.18,342.14 L65.22,338.63 L66.78,336.04 L68.73,335.78 L70.68,336.94 L72.63,336.04 L73.54,334.35 L74.83,335.65 L76.52,335.65 L77.82,333.05 L80.42,330.84 L83.02,329.54 L84.97,330.19 L86.53,331.1 L87.57,325.64 L88.87,324.99 L92.11,324.99 L93.41,326.55 L95.1,326.55 L96.4,323.95 L98.61,321.35 L101.86,321.35 L104.46,321.35 L106.41,322 L109,321.74 L109.91,316.55 L111.6,316.16 L114.2,316.16 L116.8,315.25" fill="none" stroke="#2a8c2a" stroke-width="1.5" stroke-linejoin="round"/>
<line x1="40.2" y1="367.4" x2="40.2" y2="364.7" stroke="#000" stroke-width="1.15"/>
<line x1="44.9" y1="367.4" x2="44.9" y2="364.7" stroke="#000" stroke-width="1.15"/>
<line x1="53.3" y1="367.4" x2="53.3" y2="364.7" stroke="#000" stroke-width="1.15"/>
<line x1="59.3" y1="367.4" x2="59.3" y2="364.7" stroke="#000" stroke-width="1.15"/>
<line x1="66.2" y1="367.4" x2="66.2" y2="364.7" stroke="#000" stroke-width="1.15"/>
<line x1="74.1" y1="367.4" x2="74.1" y2="364.7" stroke="#000" stroke-width="1.15"/>
<line x1="81.5" y1="367.4" x2="81.5" y2="364.7" stroke="#000" stroke-width="1.15"/>
<line x1="91.6" y1="367.4" x2="91.6" y2="364.7" stroke="#000" stroke-width="1.15"/>
<line x1="103.3" y1="367.4" x2="103.3" y2="364.7" stroke="#000" stroke-width="1.15"/>
<rect x="34.3" y="313.2" width="86.3" height="54.2" fill="none" stroke="#404040" stroke-width="0.95"/>
<line x1="51.3" y1="367.4" x2="51.3" y2="370.4" stroke="#333" stroke-width="0.8"/>
<text x="51.3" y="379.7" text-anchor="middle" font-size="9.2" textLength="15.46" lengthAdjust="spacingAndGlyphs">200</text>
<line x1="97.2" y1="367.4" x2="97.2" y2="370.4" stroke="#333" stroke-width="0.8"/>
<text x="97.2" y="379.7" text-anchor="middle" font-size="9.2" textLength="15.46" lengthAdjust="spacingAndGlyphs">400</text>
<line x1="31.1" y1="361.85" x2="34.3" y2="361.85" stroke="#333" stroke-width="0.8"/>
<text x="28" y="365.15" text-anchor="end" font-size="9.2" textLength="10.31" lengthAdjust="spacingAndGlyphs">20</text>
<line x1="31.1" y1="332.45" x2="34.3" y2="332.45" stroke="#333" stroke-width="0.8"/>
<text x="28" y="335.75" text-anchor="end" font-size="9.2" textLength="10.31" lengthAdjust="spacingAndGlyphs">40</text>
<text x="77.45" y="390.8" text-anchor="middle" font-size="8.9" textLength="31.82" lengthAdjust="spacingAndGlyphs">Cement</text>
<path d="M140.94,345.52 L145.35,345.52 L146.13,343.57 L148.34,342.53 L152.89,342.27 L156.14,341.88 L157.44,339.93 L158.09,336.43 L161.98,336.68 L165.88,336.43 L167.18,336.04 L171.08,336.17 L173.68,335.65 L177.57,335.39 L181.47,335.13 L183.42,334.35 L185.37,332.79 L186.67,333.44 L187.97,335.39 L189.53,335.78 L190.57,333.18 L191.87,332.14 L194.46,330.84 L196.02,328.89 L198.36,328.5 L200.31,327.85 L201.61,331.23 L203.56,331.49 L206.81,331.49 L207.72,328.89 L209.41,328.89 L211.35,330.19 L215.25,330.19 L220.19,330.19" fill="none" stroke="#2a8c2a" stroke-width="1.5" stroke-linejoin="round"/>
<line x1="141.6" y1="367.4" x2="141.6" y2="364.7" stroke="#000" stroke-width="1.15"/>
<line x1="149.5" y1="367.4" x2="149.5" y2="364.7" stroke="#000" stroke-width="1.15"/>
<line x1="174" y1="367.4" x2="174" y2="364.7" stroke="#000" stroke-width="1.15"/>
<line x1="184.6" y1="367.4" x2="184.6" y2="364.7" stroke="#000" stroke-width="1.15"/>
<line x1="195.8" y1="367.4" x2="195.8" y2="364.7" stroke="#000" stroke-width="1.15"/>
<line x1="204.5" y1="367.4" x2="204.5" y2="364.7" stroke="#000" stroke-width="1.15"/>
<rect x="137.7" y="313.2" width="86.3" height="54.2" fill="none" stroke="#404040" stroke-width="0.95"/>
<line x1="141.6" y1="367.4" x2="141.6" y2="370.4" stroke="#333" stroke-width="0.8"/>
<text x="141.6" y="379.7" text-anchor="middle" font-size="9.2" textLength="5.15" lengthAdjust="spacingAndGlyphs">0</text>
<line x1="174.65" y1="367.4" x2="174.65" y2="370.4" stroke="#333" stroke-width="0.8"/>
<text x="174.65" y="379.7" text-anchor="middle" font-size="9.2" textLength="15.46" lengthAdjust="spacingAndGlyphs">100</text>
<line x1="207.7" y1="367.4" x2="207.7" y2="370.4" stroke="#333" stroke-width="0.8"/>
<text x="207.7" y="379.7" text-anchor="middle" font-size="9.2" textLength="15.46" lengthAdjust="spacingAndGlyphs">200</text>
<line x1="134.5" y1="361.85" x2="137.7" y2="361.85" stroke="#333" stroke-width="0.8"/>
<line x1="134.5" y1="332.45" x2="137.7" y2="332.45" stroke="#333" stroke-width="0.8"/>
<text x="180.85" y="390.8" text-anchor="middle" font-size="8.9" textLength="74.89" lengthAdjust="spacingAndGlyphs">Blast Furnace Slag</text>
<path d="M243.94,339.54 L251.99,339.54 L264.98,339.54 L280.57,339.54 L282.52,340.32 L287.07,340.32 L288.37,338.63 L289.67,337.98 L293.57,337.72 L295.52,339.28 L298.76,339.28 L300.71,337.98 L302.01,336.43 L304.61,336.04 L305.91,335.39 L310.46,335.65 L312.41,336.04 L318.25,336.3 L320.2,337.07 L321.89,336.04 L323.19,334.35" fill="none" stroke="#2a8c2a" stroke-width="1.5" stroke-linejoin="round"/>
<line x1="244.7" y1="367.4" x2="244.7" y2="364.7" stroke="#000" stroke-width="1.15"/>
<line x1="286.7" y1="367.4" x2="286.7" y2="364.7" stroke="#000" stroke-width="1.15"/>
<line x1="292.2" y1="367.4" x2="292.2" y2="364.7" stroke="#000" stroke-width="1.15"/>
<line x1="302.1" y1="367.4" x2="302.1" y2="364.7" stroke="#000" stroke-width="1.15"/>
<line x1="311" y1="367.4" x2="311" y2="364.7" stroke="#000" stroke-width="1.15"/>
<rect x="240.7" y="313.2" width="86.3" height="54.2" fill="none" stroke="#404040" stroke-width="0.95"/>
<line x1="244.7" y1="367.4" x2="244.7" y2="370.4" stroke="#333" stroke-width="0.8"/>
<text x="244.7" y="379.7" text-anchor="middle" font-size="9.2" textLength="5.15" lengthAdjust="spacingAndGlyphs">0</text>
<line x1="291.7" y1="367.4" x2="291.7" y2="370.4" stroke="#333" stroke-width="0.8"/>
<text x="291.7" y="379.7" text-anchor="middle" font-size="9.2" textLength="15.46" lengthAdjust="spacingAndGlyphs">100</text>
<line x1="237.5" y1="361.85" x2="240.7" y2="361.85" stroke="#333" stroke-width="0.8"/>
<line x1="237.5" y1="332.45" x2="240.7" y2="332.45" stroke="#333" stroke-width="0.8"/>
<text x="283.85" y="390.8" text-anchor="middle" font-size="8.9" textLength="29.17" lengthAdjust="spacingAndGlyphs">Fly Ash</text>
<path d="M37.94,403.09 L38.85,402.44 L41.06,402.83 L42.09,407.38 L44.69,408.29 L47.29,410.63 L49.89,411.28 L51.84,410.63 L53.79,412.84 L57.04,414.14 L58.98,414.79 L62.23,414.79 L64.83,416.09 L66.52,416.74 L67.43,419.33 L69.38,419.72 L71.98,419.33 L73.93,421.02 L75.22,423.62 L75.87,424.14 L77.43,422.58 L79.77,422.84 L82.11,424.14 L83.41,427.13 L84.97,427.13 L87.57,427.52 L90.17,428.82 L92.11,430.12 L94.06,429.99 L97.96,429.99 L101.86,430.12 L105.76,429.73 L109,429.73 L110.69,428.69 L113.55,428.69 L116.8,428.82" fill="none" stroke="#2a8c2a" stroke-width="1.5" stroke-linejoin="round"/>
<line x1="46.2" y1="449.4" x2="46.2" y2="446.7" stroke="#000" stroke-width="1.15"/>
<line x1="53.2" y1="449.4" x2="53.2" y2="446.7" stroke="#000" stroke-width="1.15"/>
<line x1="61" y1="449.4" x2="61" y2="446.7" stroke="#000" stroke-width="1.15"/>
<line x1="68.4" y1="449.4" x2="68.4" y2="446.7" stroke="#000" stroke-width="1.15"/>
<line x1="75.1" y1="449.4" x2="75.1" y2="446.7" stroke="#000" stroke-width="1.15"/>
<line x1="78.6" y1="449.4" x2="78.6" y2="446.7" stroke="#000" stroke-width="1.15"/>
<line x1="81.8" y1="449.4" x2="81.8" y2="446.7" stroke="#000" stroke-width="1.15"/>
<line x1="85.2" y1="449.4" x2="85.2" y2="446.7" stroke="#000" stroke-width="1.15"/>
<line x1="92.9" y1="449.4" x2="92.9" y2="446.7" stroke="#000" stroke-width="1.15"/>
<rect x="34.3" y="395.2" width="86.3" height="54.2" fill="none" stroke="#404040" stroke-width="0.95"/>
<line x1="41.7" y1="449.4" x2="41.7" y2="452.4" stroke="#333" stroke-width="0.8"/>
<text x="41.7" y="461.7" text-anchor="middle" font-size="9.2" textLength="15.46" lengthAdjust="spacingAndGlyphs">150</text>
<line x1="89.2" y1="449.4" x2="89.2" y2="452.4" stroke="#333" stroke-width="0.8"/>
<text x="89.2" y="461.7" text-anchor="middle" font-size="9.2" textLength="15.46" lengthAdjust="spacingAndGlyphs">200</text>
<line x1="31.1" y1="443.85" x2="34.3" y2="443.85" stroke="#333" stroke-width="0.8"/>
<text x="28" y="447.15" text-anchor="end" font-size="9.2" textLength="10.31" lengthAdjust="spacingAndGlyphs">20</text>
<line x1="31.1" y1="414.45" x2="34.3" y2="414.45" stroke="#333" stroke-width="0.8"/>
<text x="28" y="417.75" text-anchor="end" font-size="9.2" textLength="10.31" lengthAdjust="spacingAndGlyphs">40</text>
<text x="77.45" y="472.8" text-anchor="middle" font-size="8.9" textLength="23.94" lengthAdjust="spacingAndGlyphs">Water</text>
<path d="M140.94,423.62 L145.09,423.23 L149.64,423.23 L150.94,421.54 L152.24,421.02 L153.54,419.07 L156.79,419.07 L161.98,418.68 L164.58,419.07 L169.78,418.94 L171.08,419.33 L172.38,420.63 L174.33,420.24 L175.63,419.33 L178.87,419.72 L180.17,419.33 L181.73,421.28 L182.77,421.02 L184.33,418.3 L186.02,418.94 L189.27,419.59 L191.22,419.98 L192.13,416.35 L193.81,416.35 L195.76,415.18 L199.66,414.79 L200.7,418.68 L202.91,420.89 L204.86,422.19 L210.05,422.19 L211.09,420.37 L213.95,420.24 L220.19,419.98" fill="none" stroke="#2a8c2a" stroke-width="1.5" stroke-linejoin="round"/>
<line x1="141.6" y1="449.4" x2="141.6" y2="446.7" stroke="#000" stroke-width="1.15"/>
<line x1="160.6" y1="449.4" x2="160.6" y2="446.7" stroke="#000" stroke-width="1.15"/>
<line x1="172.8" y1="449.4" x2="172.8" y2="446.7" stroke="#000" stroke-width="1.15"/>
<line x1="180.6" y1="449.4" x2="180.6" y2="446.7" stroke="#000" stroke-width="1.15"/>
<line x1="188.6" y1="449.4" x2="188.6" y2="446.7" stroke="#000" stroke-width="1.15"/>
<line x1="195.9" y1="449.4" x2="195.9" y2="446.7" stroke="#000" stroke-width="1.15"/>
<line x1="200.7" y1="449.4" x2="200.7" y2="446.7" stroke="#000" stroke-width="1.15"/>
<rect x="137.7" y="395.2" width="86.3" height="54.2" fill="none" stroke="#404040" stroke-width="0.95"/>
<line x1="141.6" y1="449.4" x2="141.6" y2="452.4" stroke="#333" stroke-width="0.8"/>
<text x="141.6" y="461.7" text-anchor="middle" font-size="9.2" textLength="5.15" lengthAdjust="spacingAndGlyphs">0</text>
<line x1="190.6" y1="449.4" x2="190.6" y2="452.4" stroke="#333" stroke-width="0.8"/>
<text x="190.6" y="461.7" text-anchor="middle" font-size="9.2" textLength="10.31" lengthAdjust="spacingAndGlyphs">10</text>
<line x1="134.5" y1="443.85" x2="137.7" y2="443.85" stroke="#333" stroke-width="0.8"/>
<line x1="134.5" y1="414.45" x2="137.7" y2="414.45" stroke="#333" stroke-width="0.8"/>
<text x="180.85" y="472.8" text-anchor="middle" font-size="8.9" textLength="65" lengthAdjust="spacingAndGlyphs">Superplasticizer</text>
<path d="M244.2,421.93 L247.44,422.19 L249.13,419.72 L251.34,419.33 L252.64,419.98 L253.94,421.93 L255.24,421.93 L256.93,418.94 L258.49,419.33 L260.44,421.28 L262.39,420.89 L266.28,420.63 L268.88,420.63 L270.18,420.63 L272.13,418.3 L274.08,418.68 L276.03,420.24 L277.98,419.98 L279.28,420.63 L280.57,421.54 L283.82,421.54 L285.77,421.02 L287.72,420.24 L290.97,420.63 L292.27,421.28 L296.17,421.28 L298.76,420.63 L300.06,420.89 L301.1,417.39 L303.31,417.13 L304.61,418.04 L305.26,420.89 L306.56,419.98 L308.51,421.28 L309.81,421.28 L311.76,421.67 L313.7,422.58 L314.61,427.13 L316.3,427.13 L317.6,424.53 L318.9,424.53 L320.2,425.18 L321.5,424.53 L323.45,424.27" fill="none" stroke="#2a8c2a" stroke-width="1.5" stroke-linejoin="round"/>
<line x1="248.7" y1="449.4" x2="248.7" y2="446.7" stroke="#000" stroke-width="1.15"/>
<line x1="266.8" y1="449.4" x2="266.8" y2="446.7" stroke="#000" stroke-width="1.15"/>
<line x1="273.2" y1="449.4" x2="273.2" y2="446.7" stroke="#000" stroke-width="1.15"/>
<line x1="276.9" y1="449.4" x2="276.9" y2="446.7" stroke="#000" stroke-width="1.15"/>
<line x1="282.6" y1="449.4" x2="282.6" y2="446.7" stroke="#000" stroke-width="1.15"/>
<line x1="290.7" y1="449.4" x2="290.7" y2="446.7" stroke="#000" stroke-width="1.15"/>
<line x1="295.7" y1="449.4" x2="295.7" y2="446.7" stroke="#000" stroke-width="1.15"/>
<line x1="306.8" y1="449.4" x2="306.8" y2="446.7" stroke="#000" stroke-width="1.15"/>
<line x1="315" y1="449.4" x2="315" y2="446.7" stroke="#000" stroke-width="1.15"/>
<rect x="240.7" y="395.2" width="86.3" height="54.2" fill="none" stroke="#404040" stroke-width="0.95"/>
<line x1="262.8" y1="449.4" x2="262.8" y2="452.4" stroke="#333" stroke-width="0.8"/>
<text x="262.8" y="461.7" text-anchor="middle" font-size="9.2" textLength="15.46" lengthAdjust="spacingAndGlyphs">900</text>
<line x1="292.2" y1="449.4" x2="292.2" y2="452.4" stroke="#333" stroke-width="0.8"/>
<text x="292.2" y="461.7" text-anchor="middle" font-size="9.2" textLength="20.61" lengthAdjust="spacingAndGlyphs">1000</text>
<line x1="321.6" y1="449.4" x2="321.6" y2="452.4" stroke="#333" stroke-width="0.8"/>
<text x="321.6" y="461.7" text-anchor="middle" font-size="9.2" textLength="20.61" lengthAdjust="spacingAndGlyphs">1100</text>
<line x1="237.5" y1="443.85" x2="240.7" y2="443.85" stroke="#333" stroke-width="0.8"/>
<line x1="237.5" y1="414.45" x2="240.7" y2="414.45" stroke="#333" stroke-width="0.8"/>
<text x="283.85" y="472.8" text-anchor="middle" font-size="8.9" textLength="72.91" lengthAdjust="spacingAndGlyphs">Coarse Aggregate</text>
<path d="M37.94,500.68 L41.06,500.68 L42.35,499.13 L45.34,499.39 L46.64,500.04 L48.85,499.78 L49.89,495.49 L51.19,495.23 L55.09,495.49 L56.39,497.44 L57.68,498.35 L60.28,498.35 L61.58,499.39 L64.18,499.78 L66.13,501.72 L67.43,503.02 L70.68,503.28 L71.98,500.68 L73.93,499.39 L74.57,497.44 L76.52,497.83 L77.82,501.33 L79.77,501.98 L83.67,501.98 L84.97,501.33 L86.27,502.63 L88.87,502.63 L89.91,503.28 L90.81,504.32 L92.76,503.28 L94.71,503.93 L96.01,504.84 L97.96,503.67 L101.86,503.93 L105.76,504.58 L110.3,503.93 L112.25,505.62 L116.8,505.62" fill="none" stroke="#2a8c2a" stroke-width="1.5" stroke-linejoin="round"/>
<line x1="50.9" y1="531.3" x2="50.9" y2="528.6" stroke="#000" stroke-width="1.15"/>
<line x1="64.5" y1="531.3" x2="64.5" y2="528.6" stroke="#000" stroke-width="1.15"/>
<line x1="75.1" y1="531.3" x2="75.1" y2="528.6" stroke="#000" stroke-width="1.15"/>
<line x1="78.15" y1="531.3" x2="78.15" y2="528.6" stroke="#000" stroke-width="1.15"/>
<line x1="83.9" y1="531.3" x2="83.9" y2="528.6" stroke="#000" stroke-width="1.15"/>
<line x1="87.55" y1="531.3" x2="87.55" y2="528.6" stroke="#000" stroke-width="1.15"/>
<line x1="91.1" y1="531.3" x2="91.1" y2="528.6" stroke="#000" stroke-width="1.15"/>
<line x1="101.2" y1="531.3" x2="101.2" y2="528.6" stroke="#000" stroke-width="1.15"/>
<line x1="111.1" y1="531.3" x2="111.1" y2="528.6" stroke="#000" stroke-width="1.15"/>
<rect x="34.3" y="477.1" width="86.3" height="54.2" fill="none" stroke="#404040" stroke-width="0.95"/>
<line x1="34.35" y1="531.3" x2="34.35" y2="534.3" stroke="#333" stroke-width="0.8"/>
<text x="34.35" y="543.6" text-anchor="middle" font-size="9.2" textLength="15.46" lengthAdjust="spacingAndGlyphs">600</text>
<line x1="89.2" y1="531.3" x2="89.2" y2="534.3" stroke="#333" stroke-width="0.8"/>
<text x="89.2" y="543.6" text-anchor="middle" font-size="9.2" textLength="15.46" lengthAdjust="spacingAndGlyphs">800</text>
<line x1="31.1" y1="525.75" x2="34.3" y2="525.75" stroke="#333" stroke-width="0.8"/>
<text x="28" y="529.05" text-anchor="end" font-size="9.2" textLength="10.31" lengthAdjust="spacingAndGlyphs">20</text>
<line x1="31.1" y1="496.35" x2="34.3" y2="496.35" stroke="#333" stroke-width="0.8"/>
<text x="28" y="499.65" text-anchor="end" font-size="9.2" textLength="10.31" lengthAdjust="spacingAndGlyphs">40</text>
<text x="77.45" y="554.7" text-anchor="middle" font-size="8.9" textLength="61.24" lengthAdjust="spacingAndGlyphs">Fine Aggregate</text>
<path d="M141.46,529.27 L141.85,524.07 L142.5,517.57 L143.54,511.08 L144.44,505.88 L145.74,501.98 L147.04,498.74 L148.99,495.49 L151.33,491.33 L153.54,487.69 L156.79,487.04 L160.04,486.39 L160.68,484.44 L161.98,482.5 L163.28,482.11 L167.18,482.76 L172.38,483.54 L180.17,484.44 L185.37,483.54 L191.87,482.24 L199.66,480.94 L207.46,480.94 L213.95,480.94 L220.19,480.94" fill="none" stroke="#2a8c2a" stroke-width="1.5" stroke-linejoin="round"/>
<line x1="141.6" y1="531.3" x2="141.6" y2="528.6" stroke="#000" stroke-width="1.15"/>
<line x1="142.6" y1="531.3" x2="142.6" y2="528.6" stroke="#000" stroke-width="1.15"/>
<line x1="143.6" y1="531.3" x2="143.6" y2="528.6" stroke="#000" stroke-width="1.15"/>
<line x1="144.3" y1="531.3" x2="144.3" y2="528.6" stroke="#000" stroke-width="1.15"/>
<line x1="147.3" y1="531.3" x2="147.3" y2="528.6" stroke="#000" stroke-width="1.15"/>
<line x1="153.2" y1="531.3" x2="153.2" y2="528.6" stroke="#000" stroke-width="1.15"/>
<line x1="162" y1="485" x2="162" y2="533.3" stroke="#6a6a6a" stroke-width="1.5" stroke-dasharray="7.4 3.0"/>
<rect x="137.7" y="477.1" width="86.3" height="54.2" fill="none" stroke="#404040" stroke-width="0.95"/>
<line x1="141.6" y1="531.3" x2="141.6" y2="534.3" stroke="#333" stroke-width="0.8"/>
<text x="141.6" y="543.6" text-anchor="middle" font-size="9.2" textLength="5.15" lengthAdjust="spacingAndGlyphs">0</text>
<line x1="184.4" y1="531.3" x2="184.4" y2="534.3" stroke="#333" stroke-width="0.8"/>
<text x="184.4" y="543.6" text-anchor="middle" font-size="9.2" textLength="15.46" lengthAdjust="spacingAndGlyphs">200</text>
<line x1="134.5" y1="525.75" x2="137.7" y2="525.75" stroke="#333" stroke-width="0.8"/>
<line x1="134.5" y1="496.35" x2="137.7" y2="496.35" stroke="#333" stroke-width="0.8"/>
<text x="180.85" y="554.7" text-anchor="middle" font-size="8.9" textLength="15.67" lengthAdjust="spacingAndGlyphs">Age</text></g>
<g><text x="483.6" y="304.4" font-size="15.2" letter-spacing="0.45" style="stroke-width:0.15px">(d)</text>
<text x="518.7" y="304.9" font-size="14.0" style="stroke-width:0.15px">XGB</text>
<g transform="translate(360.5,419.8) rotate(-90)"><text x="0" y="0" text-anchor="middle" font-size="8.9" textLength="130.46" lengthAdjust="spacingAndGlyphs">Predicted Compressive Strength</text></g>
<path d="M389.94,347.64 L391.5,348.68 L393.06,348.03 L394.35,345.82 L396.04,343.74 L397.99,342.18 L400.33,342.18 L401.63,340.23 L403.84,338.93 L405.79,338.28 L407.09,337.24 L409.68,337.63 L412.28,337.24 L414.23,336.33 L415.53,335.43 L417.48,335.68 L418.52,333.09 L420.08,331.79 L422.68,331.79 L424.63,331.53 L425.93,330.49 L427.87,331.79 L429.82,331.14 L431.77,330.23 L434.37,328.93 L436.97,328.28 L438.92,328.8 L440.22,327.63 L441.52,326.85 L443.46,327.24 L444.5,325.94 L446.06,327.24 L447.36,325.29 L449.31,323.99 L451.26,323.34 L455.16,323.34 L457.11,324.25 L458.41,323.99 L459.31,322.04 L461,320.35 L464.25,320.09 L466.2,320.74 L467.5,321.39 L468.8,320.35" fill="none" stroke="#3a3ae8" stroke-width="1.5" stroke-linejoin="round"/>
<line x1="392.4" y1="366.6" x2="392.4" y2="363.9" stroke="#000" stroke-width="1.15"/>
<line x1="397.1" y1="366.6" x2="397.1" y2="363.9" stroke="#000" stroke-width="1.15"/>
<line x1="405.5" y1="366.6" x2="405.5" y2="363.9" stroke="#000" stroke-width="1.15"/>
<line x1="411.5" y1="366.6" x2="411.5" y2="363.9" stroke="#000" stroke-width="1.15"/>
<line x1="418.4" y1="366.6" x2="418.4" y2="363.9" stroke="#000" stroke-width="1.15"/>
<line x1="426.3" y1="366.6" x2="426.3" y2="363.9" stroke="#000" stroke-width="1.15"/>
<line x1="433.7" y1="366.6" x2="433.7" y2="363.9" stroke="#000" stroke-width="1.15"/>
<line x1="443.8" y1="366.6" x2="443.8" y2="363.9" stroke="#000" stroke-width="1.15"/>
<line x1="455.5" y1="366.6" x2="455.5" y2="363.9" stroke="#000" stroke-width="1.15"/>
<rect x="386.5" y="312.6" width="86" height="54" fill="none" stroke="#404040" stroke-width="0.95"/>
<line x1="403.5" y1="366.6" x2="403.5" y2="369.6" stroke="#333" stroke-width="0.8"/>
<text x="403.5" y="378.9" text-anchor="middle" font-size="9.2" textLength="15.46" lengthAdjust="spacingAndGlyphs">200</text>
<line x1="449.4" y1="366.6" x2="449.4" y2="369.6" stroke="#333" stroke-width="0.8"/>
<text x="449.4" y="378.9" text-anchor="middle" font-size="9.2" textLength="15.46" lengthAdjust="spacingAndGlyphs">400</text>
<line x1="383.3" y1="355.25" x2="386.5" y2="355.25" stroke="#333" stroke-width="0.8"/>
<text x="380.2" y="358.55" text-anchor="end" font-size="9.2" textLength="10.31" lengthAdjust="spacingAndGlyphs">20</text>
<line x1="383.3" y1="328.8" x2="386.5" y2="328.8" stroke="#333" stroke-width="0.8"/>
<text x="380.2" y="332.1" text-anchor="end" font-size="9.2" textLength="10.31" lengthAdjust="spacingAndGlyphs">40</text>
<text x="429.5" y="390" text-anchor="middle" font-size="8.9" textLength="31.82" lengthAdjust="spacingAndGlyphs">Cement</text>
<path d="M492.94,337.63 L496.44,337.89 L498.39,336.07 L500.99,335.04 L502.94,335.68 L505.54,335.94 L507.23,336.72 L508.79,335.43 L510.74,334.39 L512.04,333.35 L515.28,333.09 L520.48,333.09 L523.73,333.35 L526.98,333.48 L530.22,333.35 L532.82,332.7 L534.77,332.05 L536.33,330.49 L538.02,331.14 L539.97,333.09 L541.92,332.44 L544.52,331.53 L545.81,330.23 L547.76,330.49 L549.06,329.45 L552.31,329.45 L553.35,328.54 L554.26,330.49 L556.86,331.14 L558.81,331.4 L560.76,329.45 L562.7,329.45 L564,330.23 L565.95,329.84 L569.2,329.84 L572.19,329.19" fill="none" stroke="#3a3ae8" stroke-width="1.5" stroke-linejoin="round"/>
<line x1="493.7" y1="366.6" x2="493.7" y2="363.9" stroke="#000" stroke-width="1.15"/>
<line x1="501.6" y1="366.6" x2="501.6" y2="363.9" stroke="#000" stroke-width="1.15"/>
<line x1="526.1" y1="366.6" x2="526.1" y2="363.9" stroke="#000" stroke-width="1.15"/>
<line x1="536.7" y1="366.6" x2="536.7" y2="363.9" stroke="#000" stroke-width="1.15"/>
<line x1="547.9" y1="366.6" x2="547.9" y2="363.9" stroke="#000" stroke-width="1.15"/>
<line x1="556.6" y1="366.6" x2="556.6" y2="363.9" stroke="#000" stroke-width="1.15"/>
<rect x="489.8" y="312.6" width="86" height="54" fill="none" stroke="#404040" stroke-width="0.95"/>
<line x1="493.7" y1="366.6" x2="493.7" y2="369.6" stroke="#333" stroke-width="0.8"/>
<text x="493.7" y="378.9" text-anchor="middle" font-size="9.2" textLength="5.15" lengthAdjust="spacingAndGlyphs">0</text>
<line x1="526.75" y1="366.6" x2="526.75" y2="369.6" stroke="#333" stroke-width="0.8"/>
<text x="526.75" y="378.9" text-anchor="middle" font-size="9.2" textLength="15.46" lengthAdjust="spacingAndGlyphs">100</text>
<line x1="559.8" y1="366.6" x2="559.8" y2="369.6" stroke="#333" stroke-width="0.8"/>
<text x="559.8" y="378.9" text-anchor="middle" font-size="9.2" textLength="15.46" lengthAdjust="spacingAndGlyphs">200</text>
<line x1="486.6" y1="355.25" x2="489.8" y2="355.25" stroke="#333" stroke-width="0.8"/>
<line x1="486.6" y1="328.8" x2="489.8" y2="328.8" stroke="#333" stroke-width="0.8"/>
<text x="532.8" y="390" text-anchor="middle" font-size="8.9" textLength="74.89" lengthAdjust="spacingAndGlyphs">Blast Furnace Slag</text>
<path d="M596.55,332.7 L607.59,332.44 L615.39,332.7 L623.18,332.7 L624.48,334.13 L629.68,334.13 L632.28,334.78 L634.22,335.43 L638.77,335.43 L641.37,335.04 L645.27,335.04 L646.83,334.65 L648.13,336.59 L650.46,336.33 L653.06,334.65 L655.66,335.43 L658.26,334.65 L660.21,335.43 L662.81,335.04 L664.11,335.94 L669.95,335.94 L672.55,335.94 L674.11,337.24 L675.8,336.59" fill="none" stroke="#3a3ae8" stroke-width="1.5" stroke-linejoin="round"/>
<line x1="597.3" y1="366.6" x2="597.3" y2="363.9" stroke="#000" stroke-width="1.15"/>
<line x1="639.3" y1="366.6" x2="639.3" y2="363.9" stroke="#000" stroke-width="1.15"/>
<line x1="644.8" y1="366.6" x2="644.8" y2="363.9" stroke="#000" stroke-width="1.15"/>
<line x1="654.7" y1="366.6" x2="654.7" y2="363.9" stroke="#000" stroke-width="1.15"/>
<line x1="663.6" y1="366.6" x2="663.6" y2="363.9" stroke="#000" stroke-width="1.15"/>
<rect x="593.3" y="312.6" width="86" height="54" fill="none" stroke="#404040" stroke-width="0.95"/>
<line x1="597.3" y1="366.6" x2="597.3" y2="369.6" stroke="#333" stroke-width="0.8"/>
<text x="597.3" y="378.9" text-anchor="middle" font-size="9.2" textLength="5.15" lengthAdjust="spacingAndGlyphs">0</text>
<line x1="644.3" y1="366.6" x2="644.3" y2="369.6" stroke="#333" stroke-width="0.8"/>
<text x="644.3" y="378.9" text-anchor="middle" font-size="9.2" textLength="15.46" lengthAdjust="spacingAndGlyphs">100</text>
<line x1="590.1" y1="355.25" x2="593.3" y2="355.25" stroke="#333" stroke-width="0.8"/>
<line x1="590.1" y1="328.8" x2="593.3" y2="328.8" stroke="#333" stroke-width="0.8"/>
<text x="636.3" y="390" text-anchor="middle" font-size="8.9" textLength="29.17" lengthAdjust="spacingAndGlyphs">Fly Ash</text>
<path d="M390.2,395.86 L391.5,398.2 L394.09,398.46 L396.04,399.24 L397.99,400.15 L399.29,402.35 L401.24,403.39 L403.19,404.43 L405.14,404.04 L406.44,405.6 L407.74,404.43 L408.39,403.39 L409.04,409.24 L410.98,409.63 L412.93,408.33 L415.53,408.85 L418.13,410.54 L419.04,414.05 L420.73,416.13 L422.68,415.74 L425.28,416.39 L427.22,420.28 L429.17,418.33 L431.77,419.37 L434.37,420.54 L435.93,422.62 L438.27,423.79 L442.17,424.83 L444.5,425.87 L446.06,424.83 L448.66,424.83 L451.91,424.44 L453.86,425.22 L457.76,425.48 L459.31,427.04 L461,425.48 L464.25,425.22 L468.8,425.22" fill="none" stroke="#3a3ae8" stroke-width="1.5" stroke-linejoin="round"/>
<line x1="398.4" y1="448.4" x2="398.4" y2="445.7" stroke="#000" stroke-width="1.15"/>
<line x1="405.4" y1="448.4" x2="405.4" y2="445.7" stroke="#000" stroke-width="1.15"/>
<line x1="413.2" y1="448.4" x2="413.2" y2="445.7" stroke="#000" stroke-width="1.15"/>
<line x1="420.6" y1="448.4" x2="420.6" y2="445.7" stroke="#000" stroke-width="1.15"/>
<line x1="427.3" y1="448.4" x2="427.3" y2="445.7" stroke="#000" stroke-width="1.15"/>
<line x1="430.8" y1="448.4" x2="430.8" y2="445.7" stroke="#000" stroke-width="1.15"/>
<line x1="434" y1="448.4" x2="434" y2="445.7" stroke="#000" stroke-width="1.15"/>
<line x1="437.4" y1="448.4" x2="437.4" y2="445.7" stroke="#000" stroke-width="1.15"/>
<line x1="445.1" y1="448.4" x2="445.1" y2="445.7" stroke="#000" stroke-width="1.15"/>
<rect x="386.5" y="394.4" width="86" height="54" fill="none" stroke="#404040" stroke-width="0.95"/>
<line x1="393.9" y1="448.4" x2="393.9" y2="451.4" stroke="#333" stroke-width="0.8"/>
<text x="393.9" y="460.7" text-anchor="middle" font-size="9.2" textLength="15.46" lengthAdjust="spacingAndGlyphs">150</text>
<line x1="441.4" y1="448.4" x2="441.4" y2="451.4" stroke="#333" stroke-width="0.8"/>
<text x="441.4" y="460.7" text-anchor="middle" font-size="9.2" textLength="15.46" lengthAdjust="spacingAndGlyphs">200</text>
<line x1="383.3" y1="437.05" x2="386.5" y2="437.05" stroke="#333" stroke-width="0.8"/>
<text x="380.2" y="440.35" text-anchor="end" font-size="9.2" textLength="10.31" lengthAdjust="spacingAndGlyphs">20</text>
<line x1="383.3" y1="410.6" x2="386.5" y2="410.6" stroke="#333" stroke-width="0.8"/>
<text x="380.2" y="413.9" text-anchor="end" font-size="9.2" textLength="10.31" lengthAdjust="spacingAndGlyphs">40</text>
<text x="429.5" y="471.8" text-anchor="middle" font-size="8.9" textLength="23.94" lengthAdjust="spacingAndGlyphs">Water</text>
<path d="M492.94,418.07 L500.99,418.07 L502.29,417.3 L503.59,416.39 L504.89,415.74 L506.19,414.05 L508.79,414.05 L512.04,413.53 L514.63,414.05 L517.88,414.44 L521.78,414.05 L522.82,413.4 L524.38,414.44 L526.98,413.79 L527.63,413.4 L529.57,414.44 L532.82,414.83 L534.77,415.09 L536.07,414.44 L538.02,415.09 L541.27,414.83 L543.22,414.44 L544.52,412.75 L547.11,412.23 L549.06,412.23 L550.36,413.14 L552.31,412.49 L553.61,413.79 L555.56,415.74 L557.51,417.04 L558.81,418.98 L561.41,418.98 L562.7,416.39 L564.65,413.79 L567.9,413.79 L572.19,414.18" fill="none" stroke="#3a3ae8" stroke-width="1.5" stroke-linejoin="round"/>
<line x1="493.7" y1="448.4" x2="493.7" y2="445.7" stroke="#000" stroke-width="1.15"/>
<line x1="512.7" y1="448.4" x2="512.7" y2="445.7" stroke="#000" stroke-width="1.15"/>
<line x1="524.9" y1="448.4" x2="524.9" y2="445.7" stroke="#000" stroke-width="1.15"/>
<line x1="532.7" y1="448.4" x2="532.7" y2="445.7" stroke="#000" stroke-width="1.15"/>
<line x1="540.7" y1="448.4" x2="540.7" y2="445.7" stroke="#000" stroke-width="1.15"/>
<line x1="548" y1="448.4" x2="548" y2="445.7" stroke="#000" stroke-width="1.15"/>
<line x1="552.8" y1="448.4" x2="552.8" y2="445.7" stroke="#000" stroke-width="1.15"/>
<rect x="489.8" y="394.4" width="86" height="54" fill="none" stroke="#404040" stroke-width="0.95"/>
<line x1="493.7" y1="448.4" x2="493.7" y2="451.4" stroke="#333" stroke-width="0.8"/>
<text x="493.7" y="460.7" text-anchor="middle" font-size="9.2" textLength="5.15" lengthAdjust="spacingAndGlyphs">0</text>
<line x1="542.7" y1="448.4" x2="542.7" y2="451.4" stroke="#333" stroke-width="0.8"/>
<text x="542.7" y="460.7" text-anchor="middle" font-size="9.2" textLength="10.31" lengthAdjust="spacingAndGlyphs">10</text>
<line x1="486.6" y1="437.05" x2="489.8" y2="437.05" stroke="#333" stroke-width="0.8"/>
<line x1="486.6" y1="410.6" x2="489.8" y2="410.6" stroke="#333" stroke-width="0.8"/>
<text x="532.8" y="471.8" text-anchor="middle" font-size="8.9" textLength="65" lengthAdjust="spacingAndGlyphs">Superplasticizer</text>
<path d="M596.55,414.18 L599.8,413.53 L603.04,412.75 L605.64,413.53 L610.19,413.53 L611.49,415.09 L613.44,414.18 L616.68,414.18 L618.63,415.09 L621.23,414.83 L624.48,414.05 L627.08,414.44 L628.38,415.74 L630.33,415.74 L632.28,416.65 L636.17,416.65 L640.07,416.39 L643.97,417.04 L645.27,416.65 L649.17,416.13 L651.76,415.74 L654.36,415.35 L655.92,415.35 L656.96,417.04 L659.56,417.43 L662.16,418.33 L664.11,418.07 L666.05,419.37 L668,421.32 L669.95,420.28 L673.85,420.54 L675.41,421.32" fill="none" stroke="#3a3ae8" stroke-width="1.5" stroke-linejoin="round"/>
<line x1="601.3" y1="448.4" x2="601.3" y2="445.7" stroke="#000" stroke-width="1.15"/>
<line x1="619.4" y1="448.4" x2="619.4" y2="445.7" stroke="#000" stroke-width="1.15"/>
<line x1="625.8" y1="448.4" x2="625.8" y2="445.7" stroke="#000" stroke-width="1.15"/>
<line x1="629.5" y1="448.4" x2="629.5" y2="445.7" stroke="#000" stroke-width="1.15"/>
<line x1="635.2" y1="448.4" x2="635.2" y2="445.7" stroke="#000" stroke-width="1.15"/>
<line x1="643.3" y1="448.4" x2="643.3" y2="445.7" stroke="#000" stroke-width="1.15"/>
<line x1="648.3" y1="448.4" x2="648.3" y2="445.7" stroke="#000" stroke-width="1.15"/>
<line x1="659.4" y1="448.4" x2="659.4" y2="445.7" stroke="#000" stroke-width="1.15"/>
<line x1="667.6" y1="448.4" x2="667.6" y2="445.7" stroke="#000" stroke-width="1.15"/>
<rect x="593.3" y="394.4" width="86" height="54" fill="none" stroke="#404040" stroke-width="0.95"/>
<line x1="615.4" y1="448.4" x2="615.4" y2="451.4" stroke="#333" stroke-width="0.8"/>
<text x="615.4" y="460.7" text-anchor="middle" font-size="9.2" textLength="15.46" lengthAdjust="spacingAndGlyphs">900</text>
<line x1="644.8" y1="448.4" x2="644.8" y2="451.4" stroke="#333" stroke-width="0.8"/>
<text x="644.8" y="460.7" text-anchor="middle" font-size="9.2" textLength="20.61" lengthAdjust="spacingAndGlyphs">1000</text>
<line x1="674.2" y1="448.4" x2="674.2" y2="451.4" stroke="#333" stroke-width="0.8"/>
<text x="674.2" y="460.7" text-anchor="middle" font-size="9.2" textLength="20.61" lengthAdjust="spacingAndGlyphs">1100</text>
<line x1="590.1" y1="437.05" x2="593.3" y2="437.05" stroke="#333" stroke-width="0.8"/>
<line x1="590.1" y1="410.6" x2="593.3" y2="410.6" stroke="#333" stroke-width="0.8"/>
<text x="636.3" y="471.8" text-anchor="middle" font-size="8.9" textLength="72.91" lengthAdjust="spacingAndGlyphs">Coarse Aggregate</text>
<path d="M389.94,491.89 L392.15,491.89 L394.09,490.59 L396.04,491.24 L399.29,491.5 L401.24,490.85 L402.54,490.2 L404.49,490.59 L406.44,490.85 L408.39,491.5 L411.63,491.63 L412.93,493.19 L416.18,494.23 L418.13,496.83 L419.43,497.74 L422.68,497.74 L423.72,496.44 L424.63,494.75 L429.17,494.75 L431.12,496.44 L432.42,497.35 L435.02,497.74 L436.97,498 L438.92,498.65 L440.87,499.43 L443.46,500.59 L446.06,500.59 L448.01,501.63 L449.96,500.98 L455.16,500.72 L457.11,502.02 L459.05,501.63 L460.35,501.89 L462.3,502.67 L465.55,502.93 L468.8,503.32" fill="none" stroke="#3a3ae8" stroke-width="1.5" stroke-linejoin="round"/>
<line x1="403.1" y1="530.2" x2="403.1" y2="527.5" stroke="#000" stroke-width="1.15"/>
<line x1="416.7" y1="530.2" x2="416.7" y2="527.5" stroke="#000" stroke-width="1.15"/>
<line x1="427.3" y1="530.2" x2="427.3" y2="527.5" stroke="#000" stroke-width="1.15"/>
<line x1="430.35" y1="530.2" x2="430.35" y2="527.5" stroke="#000" stroke-width="1.15"/>
<line x1="436.1" y1="530.2" x2="436.1" y2="527.5" stroke="#000" stroke-width="1.15"/>
<line x1="439.75" y1="530.2" x2="439.75" y2="527.5" stroke="#000" stroke-width="1.15"/>
<line x1="443.3" y1="530.2" x2="443.3" y2="527.5" stroke="#000" stroke-width="1.15"/>
<line x1="453.4" y1="530.2" x2="453.4" y2="527.5" stroke="#000" stroke-width="1.15"/>
<line x1="463.3" y1="530.2" x2="463.3" y2="527.5" stroke="#000" stroke-width="1.15"/>
<rect x="386.5" y="476.2" width="86" height="54" fill="none" stroke="#404040" stroke-width="0.95"/>
<line x1="386.55" y1="530.2" x2="386.55" y2="533.2" stroke="#333" stroke-width="0.8"/>
<text x="386.55" y="542.5" text-anchor="middle" font-size="9.2" textLength="15.46" lengthAdjust="spacingAndGlyphs">600</text>
<line x1="441.4" y1="530.2" x2="441.4" y2="533.2" stroke="#333" stroke-width="0.8"/>
<text x="441.4" y="542.5" text-anchor="middle" font-size="9.2" textLength="15.46" lengthAdjust="spacingAndGlyphs">800</text>
<line x1="383.3" y1="518.85" x2="386.5" y2="518.85" stroke="#333" stroke-width="0.8"/>
<text x="380.2" y="522.15" text-anchor="end" font-size="9.2" textLength="10.31" lengthAdjust="spacingAndGlyphs">20</text>
<line x1="383.3" y1="492.4" x2="386.5" y2="492.4" stroke="#333" stroke-width="0.8"/>
<text x="380.2" y="495.7" text-anchor="end" font-size="9.2" textLength="10.31" lengthAdjust="spacingAndGlyphs">40</text>
<text x="429.5" y="553.6" text-anchor="middle" font-size="8.9" textLength="61.24" lengthAdjust="spacingAndGlyphs">Fine Aggregate</text>
<path d="M493.46,528.27 L493.85,523.07 L494.24,516.57 L494.76,510.08 L495.8,504.88 L497.35,499.68 L499.04,495.14 L500.99,491.89 L503.59,487.99 L505.54,484.74 L508.79,484.09 L512.04,483.44 L512.94,481.5 L514.63,479.94 L519.18,480.2 L526.98,480.46 L532.82,480.46 L539.97,479.68 L546.46,479.16 L552.96,478.77 L559.46,478.51 L565.95,478.25 L572.19,477.99" fill="none" stroke="#3a3ae8" stroke-width="1.5" stroke-linejoin="round"/>
<line x1="493.7" y1="530.2" x2="493.7" y2="527.5" stroke="#000" stroke-width="1.15"/>
<line x1="494.7" y1="530.2" x2="494.7" y2="527.5" stroke="#000" stroke-width="1.15"/>
<line x1="495.7" y1="530.2" x2="495.7" y2="527.5" stroke="#000" stroke-width="1.15"/>
<line x1="496.4" y1="530.2" x2="496.4" y2="527.5" stroke="#000" stroke-width="1.15"/>
<line x1="499.4" y1="530.2" x2="499.4" y2="527.5" stroke="#000" stroke-width="1.15"/>
<line x1="505.3" y1="530.2" x2="505.3" y2="527.5" stroke="#000" stroke-width="1.15"/>
<line x1="514.3" y1="477.4" x2="514.3" y2="532.5" stroke="#3a3a3a" stroke-width="1.4" stroke-dasharray="7.4 3.0"/>
<rect x="489.8" y="476.2" width="86" height="54" fill="none" stroke="#404040" stroke-width="0.95"/>
<line x1="493.7" y1="530.2" x2="493.7" y2="533.2" stroke="#333" stroke-width="0.8"/>
<text x="493.7" y="542.5" text-anchor="middle" font-size="9.2" textLength="5.15" lengthAdjust="spacingAndGlyphs">0</text>
<line x1="536.5" y1="530.2" x2="536.5" y2="533.2" stroke="#333" stroke-width="0.8"/>
<text x="536.5" y="542.5" text-anchor="middle" font-size="9.2" textLength="15.46" lengthAdjust="spacingAndGlyphs">200</text>
<line x1="486.6" y1="518.85" x2="489.8" y2="518.85" stroke="#333" stroke-width="0.8"/>
<line x1="486.6" y1="492.4" x2="489.8" y2="492.4" stroke="#333" stroke-width="0.8"/>
<text x="532.8" y="553.6" text-anchor="middle" font-size="8.9" textLength="15.67" lengthAdjust="spacingAndGlyphs">Age</text></g>
</svg>
</body></html>
